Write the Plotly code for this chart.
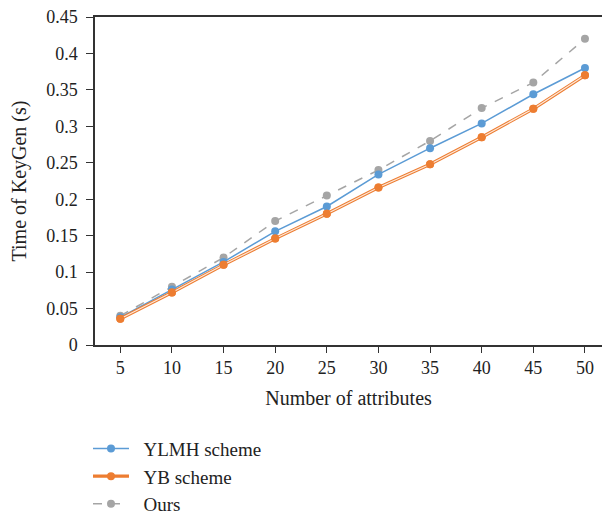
import plotly.graph_objects as go

attributes = [5, 10, 15, 20, 25, 30, 35, 40, 45, 50]
ylmh = [0.038, 0.076, 0.114, 0.156, 0.190, 0.234, 0.270, 0.304, 0.344, 0.380]
yb = [0.036, 0.072, 0.110, 0.146, 0.180, 0.216, 0.248, 0.285, 0.324, 0.370]
ours = [0.040, 0.080, 0.120, 0.170, 0.205, 0.240, 0.280, 0.325, 0.360, 0.420]
y_ticks = [0, 0.05, 0.1, 0.15, 0.2, 0.25, 0.3, 0.35, 0.4, 0.45]
y_tick_text = ["0", "0.05", "0.1", "0.15", "0.2", "0.25", "0.3", "0.35", "0.4", "0.45"]
series_names = ["YLMH scheme", "YB scheme", "Ours"]

blue = "#5b9bd5"
orange = "#ed7d31"
gray = "#a5a5a5"
font = "Liberation Serif"
pad = "\u00a0\u00a0"

fig = go.Figure()
fig.add_trace(go.Scatter(x=attributes, y=ours, mode="lines+markers", name=pad + series_names[2],
                         line=dict(color=gray, width=1.5, dash="dash"),
                         marker=dict(color=gray, size=8), legendrank=3))
fig.add_trace(go.Scatter(x=attributes, y=ylmh, mode="lines+markers", name=pad + series_names[0],
                         line=dict(color=blue, width=1.5),
                         marker=dict(color=blue, size=8), legendrank=1))
fig.add_trace(go.Scatter(x=attributes, y=yb, mode="lines+markers", name=pad + series_names[1],
                         line=dict(color=orange, width=3.2),
                         marker=dict(color=orange, size=8), legendrank=2))
fig.add_trace(go.Scatter(x=attributes, y=yb, mode="lines", showlegend=False,
                         line=dict(color="#fde9dc", width=1.2), hoverinfo="skip"))
fig.add_trace(go.Scatter(x=attributes, y=yb, mode="markers", showlegend=False,
                         marker=dict(color=orange, size=8), hoverinfo="skip"))

fig.update_layout(
    width=602, height=517,
    margin=dict(l=95, r=0, t=17, b=172, autoexpand=False),
    plot_bgcolor="white", paper_bgcolor="white",
    font=dict(family=font, size=18, color="#222"),
    xaxis=dict(range=[2.55, 51.65], tickvals=attributes, showgrid=False, zeroline=False,
               showline=True, linecolor="#333", linewidth=1.5, mirror=True,
               ticks="outside", ticklen=6, tickcolor="#333", automargin=False,
               tickfont=dict(family=font, size=18, color="#222"),
               title=dict(text="Number of attributes", font=dict(family=font, size=20), standoff=14)),
    yaxis=dict(range=[0, 0.45], tickvals=y_ticks, ticktext=y_tick_text, showgrid=False,
               zeroline=False, showline=True, linecolor="#333", linewidth=1.5,
               ticks="outside", ticklen=7, tickcolor="#333", automargin=False,
               ticklabelstandoff=5,
               tickfont=dict(family=font, size=18, color="#222"),
               title=dict(text="Time of KeyGen (s)", font=dict(family=font, size=20), standoff=14)),
    legend=dict(x=-0.0138, y=-0.258, xanchor="left", yanchor="top", itemwidth=36,
                font=dict(family=font, size=19, color="#222"),
                bgcolor="rgba(0,0,0,0)", tracegroupgap=0),
)
fig.write_html("out.html", config={"displayModeBar": False},
               post_script="document.body.style.margin='0';document.body.style.overflow='hidden';")
